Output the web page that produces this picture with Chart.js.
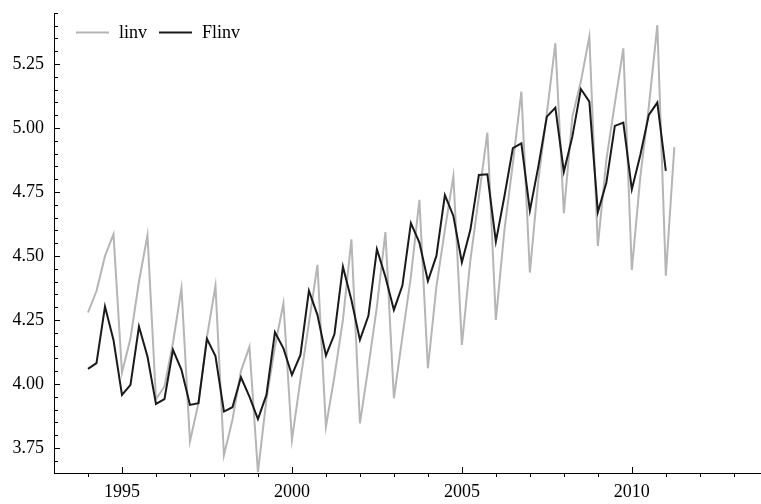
<!DOCTYPE html>
<html>
<head>
<meta charset="utf-8">
<script src="https://cdn.jsdelivr.net/npm/chart.js@4.4.1/dist/chart.umd.min.js"></script>
<style>
    body { margin: 0; background: #fff; }
    #wrap { width: 761px; height: 504px; }
</style>
</head>
<body>
<div id="wrap"><canvas id="myChart" width="761" height="504"></canvas></div>
<script>
// quarterly series, first quarter = 1994 Q1
const startYear = 1994;

const linv = [
    4.279, 4.363, 4.500, 4.585,
    4.044, 4.178, 4.400, 4.581,
    3.940, 3.990, 4.160, 4.374,
    3.775, 3.925, 4.184, 4.383,
    3.721, 3.860, 4.050, 4.145,
    3.655, 3.940, 4.146, 4.315,
    3.781, 4.016, 4.238, 4.465,
    3.833, 4.029, 4.250, 4.565,
    3.846, 4.068, 4.302, 4.593,
    3.944, 4.185, 4.419, 4.719,
    4.061, 4.380, 4.602, 4.812,
    4.152, 4.484, 4.732, 4.982,
    4.250, 4.600, 4.862, 5.142,
    4.435, 4.797, 5.057, 5.331,
    4.667, 5.044, 5.181, 5.357,
    4.539, 4.875, 5.096, 5.311,
    4.445, 4.810, 5.083, 5.402,
    4.423, 4.925
];

const flinv = [
    4.059, 4.081, 4.302, 4.172,
    3.957, 3.996, 4.224, 4.107,
    3.922, 3.941, 4.133, 4.055,
    3.918, 3.925, 4.176, 4.109,
    3.892, 3.909, 4.026, 3.950,
    3.863, 3.957, 4.202, 4.139,
    4.035, 4.113, 4.364, 4.270,
    4.111, 4.194, 4.458, 4.328,
    4.172, 4.266, 4.526, 4.419,
    4.289, 4.384, 4.628, 4.552,
    4.402, 4.500, 4.738, 4.656,
    4.475, 4.602, 4.816, 4.819,
    4.556, 4.732, 4.921, 4.940,
    4.677, 4.850, 5.044, 5.079,
    4.829, 4.966, 5.152, 5.103,
    4.671, 4.786, 5.008, 5.021,
    4.760, 4.894, 5.051, 5.099,
    4.832
];

const xLabels = [1995, 2000, 2005, 2010];
const xTickYears = [1994, 1995, 1996, 1997, 1998, 1999, 2000, 2001, 2002, 2003,
    2004, 2005, 2006, 2007, 2008, 2009, 2010, 2011, 2012, 2013];
const yLabels = [3.75, 4.00, 4.25, 4.50, 4.75, 5.00, 5.25];
const yMinorStep = 0.05;

function toPoints(values) {
    return values.map((v, i) => ({ x: startYear + i / 4, y: v }));
}

const serif = 'Liberation Serif';
const fontSize = 18;

// small tick marks like the original plot (minor ones on y and x)
const axisTicks = {
    id: 'axisTicks',
    afterDraw(chart) {
        const ctx = chart.ctx;
        const xs = chart.scales.x;
        const ys = chart.scales.y;
        ctx.save();
        ctx.strokeStyle = '#000';
        ctx.lineWidth = 1;
        ctx.beginPath();
        for (let v = 3.70; v <= 5.45; v += yMinorStep) {
            const val = Math.round(v * 100) / 100;
            const py = Math.round(ys.getPixelForValue(val)) + 0.5;
            const major = yLabels.some(l => Math.abs(l - val) < 1e-6);
            ctx.moveTo(xs.left, py);
            ctx.lineTo(xs.left + (major ? 6 : 4), py);
        }
        xTickYears.forEach(yr => {
            const px = Math.round(xs.getPixelForValue(yr)) + 0.5;
            if (xLabels.includes(yr)) {
                ctx.moveTo(px, ys.bottom);
                ctx.lineTo(px, ys.bottom - 6);
            } else {
                ctx.moveTo(px, ys.bottom);
                ctx.lineTo(px, ys.bottom + 4);
            }
        });
        ctx.stroke();
        ctx.restore();
    }
};

// legend in one row, top left inside the plot
const inlineLegend = {
    id: 'inlineLegend',
    afterDraw(chart) {
        const ctx = chart.ctx;
        const area = chart.chartArea;
        let x = area.left + 22;
        const y = area.top + 19.5;
        ctx.save();
        ctx.font = fontSize + 'px "' + serif + '"';
        ctx.textBaseline = 'middle';
        ctx.fillStyle = '#000';
        chart.data.datasets.forEach(ds => {
            ctx.strokeStyle = ds.borderColor;
            ctx.lineWidth = ds.borderWidth;
            ctx.beginPath();
            ctx.moveTo(x, y);
            ctx.lineTo(x + 33, y);
            ctx.stroke();
            x += 43;
            ctx.fillText(ds.label, x, y + 1);
            x += ctx.measureText(ds.label).width + 12;
        });
        ctx.restore();
    }
};

function noPad(scale) {
    scale.paddingTop = 0;
    scale.paddingBottom = 0;
    scale.paddingLeft = 0;
    scale.paddingRight = 0;
}

const ctx = document.getElementById('myChart').getContext('2d');
const myChart = new Chart(ctx, {
    type: 'line',
    data: {
        datasets: [{
            label: 'linv',
            data: toPoints(linv),
            borderColor: '#b5b5b5',
            borderWidth: 2,
            pointRadius: 0,
            tension: 0,
            order: 1
        }, {
            label: 'Flinv',
            data: toPoints(flinv),
            borderColor: '#1a1a1a',
            borderWidth: 2,
            pointRadius: 0,
            tension: 0,
            order: 0
        }]
    },
    options: {
        responsive: false,
        animation: false,
        events: [],
        layout: { padding: { top: 13, right: 0, left: 0, bottom: 0 } },
        plugins: {
            tooltip: { enabled: false },
            legend: { display: false }
        },
        scales: {
            x: {
                type: 'linear',
                min: 1993,
                max: 2013.8,
                afterFit: (scale) => { scale.height = 31; noPad(scale); },
                afterBuildTicks: (scale) => { scale.ticks = xLabels.map(v => ({ value: v })); },
                grid: { display: false, drawTicks: false },
                border: { display: true, color: '#000', width: 1 },
                ticks: {
                    autoSkip: false,
                    maxRotation: 0,
                    padding: 8,
                    color: '#000',
                    font: { family: serif, size: fontSize },
                    callback: (v) => String(v)
                }
            },
            y: {
                min: 3.652,
                max: 5.449,
                afterFit: (scale) => { scale.width = 54; noPad(scale); },
                afterBuildTicks: (scale) => { scale.ticks = yLabels.map(v => ({ value: v })); },
                grid: { display: false, drawTicks: false },
                border: { display: true, color: '#000', width: 1 },
                ticks: {
                    padding: 10,
                    color: '#000',
                    font: { family: serif, size: fontSize },
                    callback: (v) => Number(v).toFixed(2)
                }
            }
        }
    },
    plugins: [axisTicks, inlineLegend]
});
</script>
</body>
</html>
